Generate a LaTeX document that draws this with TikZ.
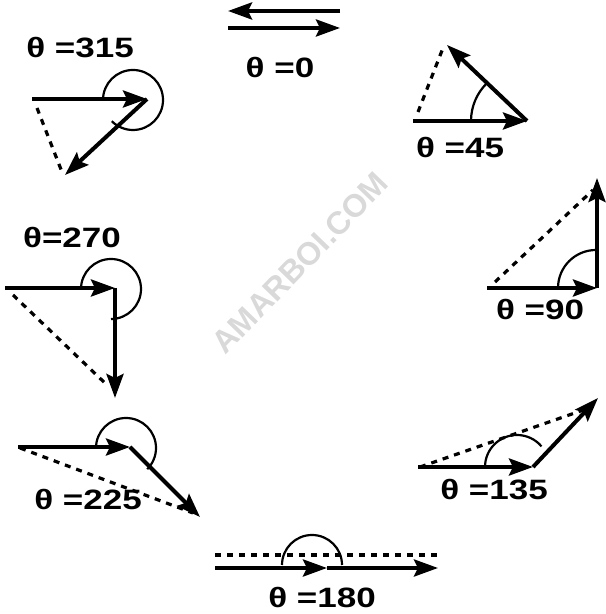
\documentclass[tikz,border=0pt]{standalone}
\usepackage{fontspec}
\setmainfont{Liberation Sans}
\newfontfamily\lblfont[FakeStretch=1.25]{Liberation Sans}
\usetikzlibrary{arrows.meta}
\tikzset{
  vec/.style={line width=2pt, -{Stealth[length=12pt,width=8.5pt,inset=2pt]}},
  dsh/.style={line width=1.6pt, dash pattern=on 3pt off 3pt},
  ang/.style={line width=1.1pt},
  lbl/.style={font=\lblfont\bfseries\fontsize{14}{16}\selectfont, inner sep=0pt},
  wm/.style={font=\bfseries\fontsize{16}{18}\selectfont, text=black!15, inner sep=0pt}
}
\begin{document}
\begin{tikzpicture}[x=0.5pt,y=0.5pt]
\useasboundingbox (0,0) rectangle (605,614);
% watermark
\node[wm, rotate=46] (wm) at (300,351) {AMARBOI.COM};
% theta = 0
\coordinate (z1) at (340,603); \coordinate (z2) at (228,603);
\coordinate (z3) at (228,586); \coordinate (z4) at (340,586);
\draw[vec] (z1) -- (z2);
\draw[vec] (z3) -- (z4);
\node[lbl] (l0) at (280,546) {θ =0};
% theta = 45
\coordinate (a45) at (413,493); \coordinate (v45) at (527,493); \coordinate (b45) at (447,569);
\coordinate (d45a) at (418,502); \coordinate (d45b) at (443,566);
\draw[vec] (a45) -- (v45);
\draw[vec] (v45) -- (b45);
\draw[dsh] (d45a) -- (d45b);
\draw[ang] (524,493) ++(180:53) arc[start angle=180, end angle=135, radius=53];
\node[lbl] (l45) at (460,466) {θ =45};
% theta = 90
\coordinate (a90) at (487,326); \coordinate (v90) at (597,326); \coordinate (b90) at (597,436);
\coordinate (d90a) at (495,332); \coordinate (d90b) at (593,424);
\draw[vec] (a90) -- (v90);
\draw[vec] (v90) -- (b90);
\draw[dsh] (d90a) -- (d90b);
\draw[ang] (596,326) ++(180:38) arc[start angle=180, end angle=90, radius=38];
\node[lbl] (l90) at (540,304) {θ =90};
% theta = 135
\coordinate (a135) at (418,147); \coordinate (v135) at (533,147); \coordinate (b135) at (598,216);
\coordinate (d135a) at (420,147); \coordinate (d135b) at (592,207);
\draw[vec] (a135) -- (v135);
\draw[vec] (v135) -- (b135);
\draw[dsh] (d135a) -- (d135b);
\draw[ang] (517,147) ++(180:32) arc[start angle=180, end angle=40, radius=32];
\node[lbl] (l135) at (494,124) {θ =135};
% theta = 180
\coordinate (d180a) at (215,59); \coordinate (d180b) at (438,59);
\coordinate (a180) at (215,46); \coordinate (v180) at (327,46); \coordinate (b180) at (438,46);
\draw[dsh] (d180a) -- (d180b);
\draw[vec] (a180) -- (v180);
\draw[vec] (v180) -- (b180);
\draw[ang] (312,49) ++(180:30) arc[start angle=180, end angle=0, radius=30];
\node[lbl] (l180) at (322,17) {θ =180};
% theta = 225
\coordinate (a225) at (18,167); \coordinate (v225) at (130,167); \coordinate (b225) at (200,97);
\coordinate (d225a) at (20,166); \coordinate (d225b) at (193,101);
\draw[vec] (a225) -- (v225);
\draw[vec] (v225) -- (b225);
\draw[dsh] (d225a) -- (d225b);
\draw[ang] (126,166) ++(180:30) arc[start angle=180, end angle=-45, radius=30];
\node[lbl] (l225) at (88,114) {θ =225};
% theta = 270
\coordinate (a270) at (5,326); \coordinate (v270) at (115,326); \coordinate (b270) at (115,216);
\coordinate (d270a) at (13,319); \coordinate (d270b) at (107,229);
\draw[vec] (a270) -- (v270);
\draw[vec] (v270) -- (b270);
\draw[dsh] (d270a) -- (d270b);
\draw[ang] (111,325) ++(180:30) arc[start angle=180, end angle=-90, radius=30];
\node[lbl] (l270) at (72,376) {θ=270};
% theta = 315
\coordinate (a315) at (32,515); \coordinate (v315) at (147,515); \coordinate (b315) at (65,439);
\coordinate (d315a) at (37,506); \coordinate (d315b) at (62,442);
\draw[vec] (a315) -- (v315);
\draw[vec] (v315) -- (b315);
\draw[dsh] (d315a) -- (d315b);
\draw[ang] (133,514) ++(180:30) arc[start angle=180, end angle=-135, radius=30];
\node[lbl] (l315) at (80,566) {θ =315};
\end{tikzpicture}
\end{document}
